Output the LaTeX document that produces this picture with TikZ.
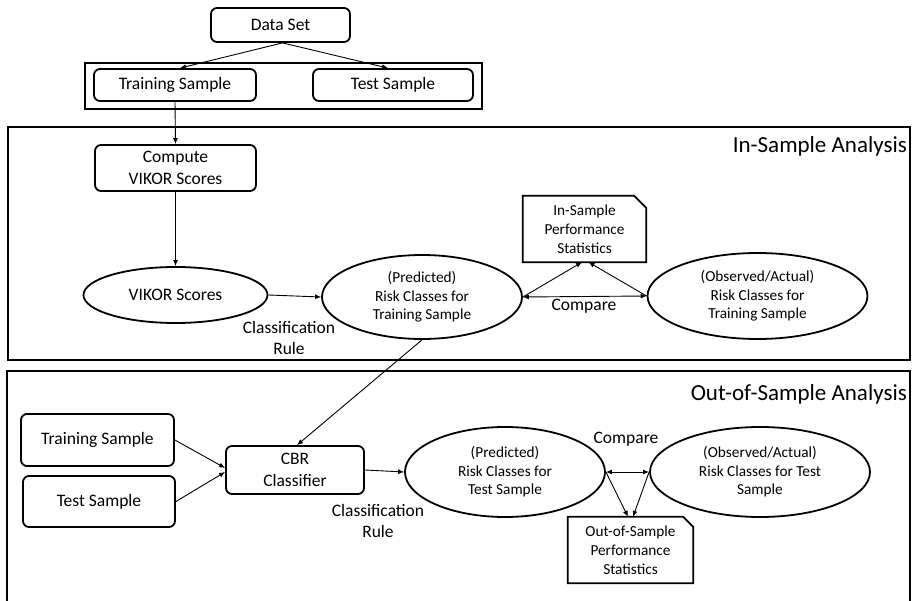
\documentclass[tikz,border=0pt]{standalone}
\usepackage{fontspec}
\setmainfont{Carlito}
\usetikzlibrary{arrows.meta,shapes.geometric}
\newcommand\docframe[2]{%
  \draw[line width=1.8pt] (#1.south west) -- (#1.north west) -- ([xshift=-#2]#1.north east) -- ([yshift=-#2]#1.north east) -- (#1.south east) -- cycle;}
\begin{document}
\begin{tikzpicture}[x=1pt,y=-1pt,
  box/.style={draw, line width=1.8pt, rounded corners=6pt, align=center, inner sep=0pt,
    font=\fontsize{17.5}{21.5}\selectfont},
  ell/.style={draw, ellipse, line width=1.8pt, align=center, inner sep=0pt,
    font=\fontsize{15.3}{18.5}\selectfont},
  doc/.style={draw=none, align=center, inner sep=0pt, font=\fontsize{15.3}{19}\selectfont},
  frm/.style={draw, line width=1.8pt, inner sep=0pt},
  lbl/.style={align=center, inner sep=0pt, font=\fontsize{17.5}{21.5}\selectfont},
  ttl/.style={inner sep=0pt, font=\fontsize{23}{27}\selectfont},
  arr/.style={-{Latex[length=6pt,width=5pt]}, line width=0.9pt},
  darr/.style={{Latex[length=6pt,width=5pt]}-{Latex[length=6pt,width=5pt]}, line width=0.9pt}]
\useasboundingbox[fill=white] (0,0) rectangle (913,601);

% top
\node[box, minimum width=139pt, minimum height=34pt] (ds) at (280.5,25) {Data Set};
\node[frm, minimum width=397pt, minimum height=46pt] (grp) at (283.5,86) {};
\node[box, minimum width=162pt, minimum height=32pt] (trA) at (175,85) {Training Sample};
\node[box, minimum width=160pt, minimum height=32pt] (teA) at (393,85) {Test Sample};
\draw[arr] ([xshift=2pt]ds.south) -- ([xshift=5pt]trA.north);
\draw[arr] ([xshift=2pt]ds.south) -- ([xshift=-5pt]teA.north);

% in-sample
\node[frm, minimum width=902pt, minimum height=233pt] (insf) at (459,243.5) {};
\node[ttl, anchor=east] (inst) at (907,146) {In-Sample Analysis};
\node[box, minimum width=161pt, minimum height=46pt] (cmp) at (175.5,168) {Compute\\VIKOR Scores};
\node[ell, minimum width=184pt, minimum height=56pt, font=\fontsize{17.5}{21.5}\selectfont] (vik) at (175.5,295) {VIKOR Scores};
\node[ell, minimum width=200pt, minimum height=84pt] (prTr) at (422,297) {(Predicted)\\Risk Classes for\\Training Sample};
\node[ell, minimum width=220pt, minimum height=86pt] (obTr) at (757.5,296) {(Observed/Actual)\\Risk Classes for\\Training Sample};
\node[doc, minimum width=123pt, minimum height=66pt] (inDoc) at (584.5,229) {In-Sample\\Performance\\Statistics};
\docframe{inDoc}{12pt}
\node[lbl] (cr1) at (289,338) {Classification\\Rule};
\node[lbl] (cmp1) at (584,306) {Compare};
\draw[arr] (trA.south) -- (cmp.north);
\draw[arr] (cmp.south) -- (vik.north);
\draw[arr] (vik.east) -- (prTr.west);
\draw[darr] (prTr.east) -- (obTr.west);
\draw[arr] (prTr.east) -- ([xshift=-2.5pt]inDoc.south);
\draw[arr] (obTr.west) -- ([xshift=4pt]inDoc.south);

% out-of-sample
\coordinate (ofbl) at (7,601);
\coordinate (oftl) at (7,371);
\coordinate (oftr) at (910,371);
\coordinate (ofbr) at (910,601);
\draw[line width=1.8pt] (ofbl) -- (oftl) -- (oftr) -- (ofbr);
\node[ttl, anchor=east] (outt) at (907,394) {Out-of-Sample Analysis};
\node[box, minimum width=153pt, minimum height=52pt] (trB) at (97.5,440) {Training Sample};
\node[box, minimum width=152pt, minimum height=51pt] (teB) at (99,501.5) {Test Sample};
\node[box, minimum width=138pt, minimum height=48pt] (cbr) at (295,470) {CBR\\Classifier};
\node[ell, minimum width=200pt, minimum height=90pt] (prTe) at (505,472) {(Predicted)\\Risk Classes for\\Test Sample};
\node[ell, minimum width=220pt, minimum height=90pt] (obTe) at (760,472) {(Observed/Actual)\\Risk Classes for Test\\Sample};
\node[doc, minimum width=125pt, minimum height=66pt] (outDoc) at (630.5,550) {Out-of-Sample\\Performance\\Statistics};
\docframe{outDoc}{10pt}
\node[lbl] (cr2) at (378,521) {Classification\\Rule};
\node[lbl] (cmp2) at (626,439) {Compare};
\draw[arr] (prTr.south) -- ([xshift=2pt]cbr.north);
\draw[arr] (trB.east) -- ([yshift=2pt]cbr.west);
\draw[arr] (teB.east) -- ([yshift=-2pt]cbr.west);
\draw[arr] (cbr.east) -- (prTe.west);
\draw[darr] (prTe.east) -- (obTe.west);
\draw[arr] (prTe.east) -- ([xshift=-2.5pt]outDoc.north);
\draw[arr] (obTe.west) -- ([xshift=2.5pt]outDoc.north);
\end{tikzpicture}
\end{document}
